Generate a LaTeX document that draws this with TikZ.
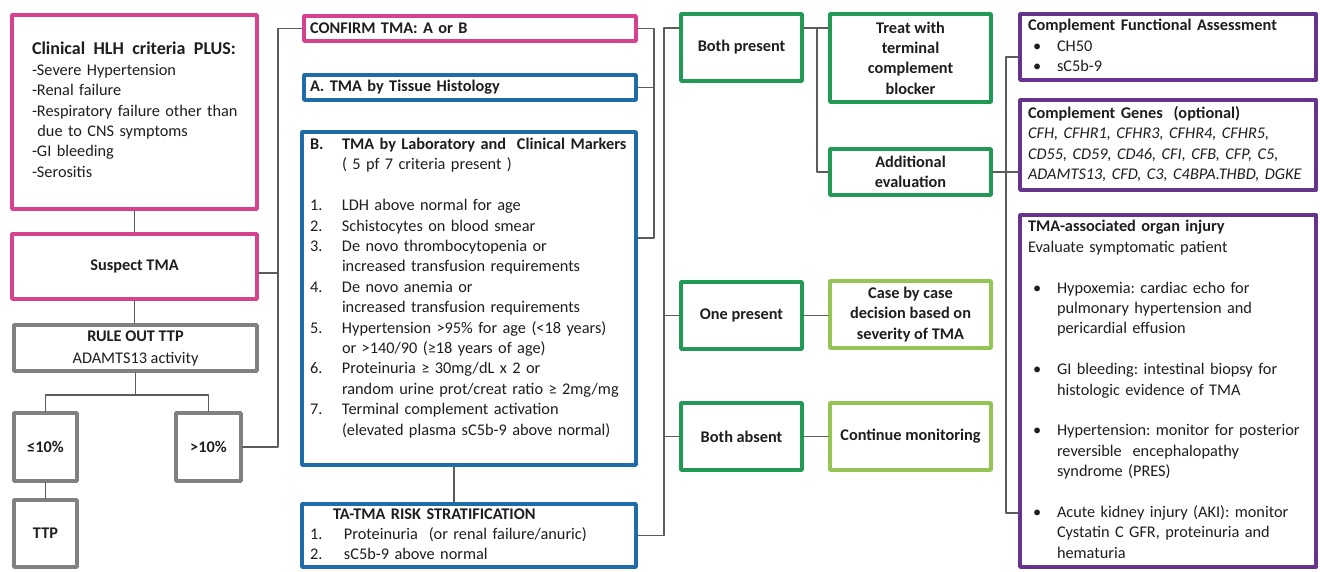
\documentclass[tikz,border=0pt]{standalone}
\usepackage{fontspec}
\setmainfont{Carlito}
\usepackage{tikz}
\usetikzlibrary{positioning}
\usetikzlibrary{calc}
\setlength{\parindent}{0pt}
\frenchspacing
\definecolor{pinkc}{RGB}{214,66,142}
\definecolor{bluec}{RGB}{31,108,168}
\definecolor{grayc}{RGB}{128,128,128}
\definecolor{greenc}{RGB}{34,154,86}
\definecolor{limec}{RGB}{148,196,84}
\definecolor{purplec}{RGB}{102,52,140}
\definecolor{linec}{RGB}{92,92,92}
\definecolor{textc}{RGB}{30,30,30}

\begin{document}
\begin{tikzpicture}[line cap=round,line join=round,x=1pt,y=-1pt,
  box/.style={draw,line width=3.8pt,fill=white,inner xsep=0pt,inner ysep=0pt,text=textc,font=\fontsize{16.3}{20.4}\selectfont},
  pinkbox/.style={box,draw=pinkc},
  bluebox/.style={box,draw=bluec},
  graybox/.style={box,draw=grayc,align=center,font=\fontsize{16.3}{22}\selectfont},
  greenbox/.style={box,draw=greenc,align=center,font=\fontsize{16.3}{20.4}\selectfont\bfseries},
  limebox/.style={box,draw=limec,align=center,font=\fontsize{16.3}{20.4}\selectfont\bfseries},
  purplebox/.style={box,draw=purplec,inner xsep=8pt,text width=280pt,align=left},
  conn/.style={draw=linec,line width=1.3pt}]
\useasboundingbox (0,0) rectangle (1320,571);
%\draw[help lines,step=50] (0,0) grid (1320,571);

% left column
\node[pinkbox,minimum width=245pt,minimum height=194pt,inner xsep=20pt,text width=205pt,align=left] (clin) at (134.5,112)
  {\begin{tabular}{@{}l@{}}
  {\fontsize{18}{24}\selectfont\bfseries Clinical\ \,HLH\ \,criteria\ \,PLUS:}\\
  -Severe Hypertension\\
  -Renal failure\\
  -Respiratory failure other than\\
  \ due to CNS symptoms\\
  -GI bleeding\\
  -Serositis
  \end{tabular}};
\node[pinkbox,minimum width=245pt,minimum height=65pt] (susp) at (134.5,266.5) {\textbf{Suspect TMA}};
\node[graybox,minimum width=243pt,minimum height=46pt] (ruleout) at (135.5,348) {\textbf{RULE OUT TTP}\\ADAMTS13 activity};
\node[graybox,minimum width=63pt,minimum height=68pt] (le) at (45.5,447) {\textbf{≤10\%}};
\node[graybox,minimum width=65pt,minimum height=68pt] (gt) at (208.5,447) {\textbf{>10\%}};
\node[graybox,minimum width=63pt,minimum height=67pt] (ttp) at (45.5,533.5) {\textbf{TTP}};

% confirm column
\node[pinkbox,minimum width=332pt,minimum height=25pt,inner xsep=6pt,text width=320pt,align=left] (confirm) at (470,28.5)
  {\textbf{CONFIRM TMA: A or B}};
\node[bluebox,minimum width=332pt,minimum height=25pt,inner xsep=6pt,text width=320pt,align=left] (tissue) at (470,87.5)
  {\textbf{A. TMA by Tissue Histology}};
\node[bluebox,minimum width=334pt,minimum height=333pt,inner xsep=8pt,text width=318pt,align=left] (lab) at (469,298.5)
  {\begin{tabular}{@{}p{32pt}@{}l@{}}
  \textbf{B.} & \textbf{TMA by Laboratory and\ \ Clinical Markers}\\
  & ( 5 pf 7 criteria present )\\
  & \\
  1. & LDH above normal for age\\
  2. & Schistocytes on blood smear\\
  3. & De novo thrombocytopenia or\\
  & increased transfusion requirements\\
  4. & De novo anemia or\\
  & increased transfusion requirements\\
  5. & Hypertension >95\% for age (<18 years)\\
  & or >140/90 (≥18 years of age)\\
  6. & Proteinuria ≥ 30mg/dL x 2 or\\
  & random urine prot/creat ratio ≥ 2mg/mg\\
  7. & Terminal complement activation\\
  & (elevated plasma sC5b-9 above normal)\\
  & \\
  \end{tabular}};
\node[bluebox,minimum width=334pt,minimum height=63pt,inner xsep=8pt,text width=318pt,align=left] (risk) at (469,535.5)
  {\begin{tabular}{@{}p{34pt}@{}l@{}}
  \multicolumn{2}{@{}l@{}}{\hspace*{23pt}\textbf{TA-TMA RISK STRATIFICATION}}\\
  1. & Proteinuria\ \ (or renal failure/anuric)\\
  2. & sC5b-9 above normal
  \end{tabular}};

% green column
\node[greenbox,minimum width=121pt,minimum height=67pt] (bothp) at (741.5,47.5) {Both present};
\node[greenbox,minimum width=121pt,minimum height=67pt] (onep) at (741.5,315.5) {One present};
\node[greenbox,minimum width=121pt,minimum height=67pt] (botha) at (741.5,436.5) {Both absent};
\node[greenbox,minimum width=161pt,minimum height=88pt] (treat) at (910.5,58) {Treat with\\terminal\\complement\\blocker};
\node[greenbox,minimum width=161pt,minimum height=46pt] (addev) at (910.5,172) {Additional\\evaluation};
\node[limebox,minimum width=161pt,minimum height=67pt] (casebc) at (910.5,314.5) {Case by case\\decision based on\\severity of TMA};
\node[limebox,minimum width=161pt,minimum height=67pt] (contm) at (910.5,436.5) {Continue monitoring};

% purple column
\node[purplebox,minimum width=296pt,minimum height=66pt] (cfa) at (1168,47)
  {\begin{tabular}{@{}p{29pt}@{}l@{}}
  \multicolumn{2}{@{}l@{}}{\textbf{Complement Functional Assessment}}\\
  \hspace*{5pt}\textbullet & CH50\\
  \hspace*{5pt}\textbullet & sC5b-9
  \end{tabular}};
\node[purplebox,minimum width=296pt,minimum height=90pt] (genes) at (1168,145)
  {\begin{tabular}{@{}l@{}}
  \textbf{Complement Genes\ \ (optional)}\\
  \textit{CFH, CFHR1, CFHR3, CFHR4, CFHR5,}\\
  \textit{CD55, CD59, CD46, CFI, CFB, CFP, C5,}\\
  \textit{ADAMTS13, CFD, C3, C4BPA.THBD, DGKE}
  \end{tabular}};
\node[purplebox,minimum width=296pt,minimum height=352pt] (organ) at (1168,391)
  {\begin{tabular}{@{}p{29pt}@{}l@{}}
  \multicolumn{2}{@{}l@{}}{\textbf{TMA-associated organ injury}}\\
  \multicolumn{2}{@{}l@{}}{Evaluate symptomatic patient}\\
  & \\
  \hspace*{5pt}\textbullet & Hypoxemia: cardiac echo for\\
  & pulmonary hypertension and\\
  & pericardial effusion\\
  & \\
  \hspace*{5pt}\textbullet & GI bleeding: intestinal biopsy for\\
  & histologic evidence of TMA\\
  & \\
  \hspace*{5pt}\textbullet & Hypertension: monitor for posterior\\
  & reversible\ \ encephalopathy\\
  & syndrome (PRES)\\
  & \\
  \hspace*{5pt}\textbullet & Acute kidney injury (AKI): monitor\\
  & Cystatin C GFR, proteinuria and\\
  & hematuria
  \end{tabular}};

% connectors
\coordinate (fork) at (135.5,395);
\coordinate (lbus) at (278,28.5);
\coordinate (mbus) at (654,28.5);
\coordinate (rbus) at (664,28);
\coordinate (gbus) at (817,28);
\coordinate (pbus) at (1006,57);
\coordinate (suspout) at ([yshift=-6.5pt]susp.east);
\coordinate (labout) at ([xshift=-15pt]lab.south);
\draw[conn] (clin.south) -- (susp.north);
\draw[conn] (susp.south) -- (susp.south |- ruleout.north);
\draw[conn] (ruleout.south) -- (fork);
\draw[conn] (le.north) |- (fork) -| (gt.north);
\draw[conn] (le.south) -- (ttp.north);
\draw[conn] (confirm.west) -- (lbus) |- (gt.east);
\draw[conn] (suspout) -- (suspout -| lbus);
\draw[conn] (confirm.east) -- (mbus) |- ([yshift=60.5pt]lab.east);
\draw[conn] (tissue.east) -- (tissue.east -| mbus);
\draw[conn] (labout) -- (labout |- risk.north);
\draw[conn] ([yshift=19.5pt]bothp.west) -- (rbus) |- (risk.east);
\draw[conn] (onep.west) -- (onep.west -| rbus);
\draw[conn] (botha.west) -- (botha.west -| rbus);
\draw[conn] ([yshift=19.5pt]bothp.east) -- ([yshift=30pt]treat.west);
\draw[conn] (gbus) |- (addev.west);
\draw[conn] (onep.east) -- (onep.east -| casebc.west);
\draw[conn] (botha.east) -- (contm.west);
\draw[conn] ([yshift=-10pt]cfa.west) -- (pbus) |- ([yshift=-122pt]organ.west);
\draw[conn] (addev.east) -- (addev.east -| genes.west);
\end{tikzpicture}
\end{document}
